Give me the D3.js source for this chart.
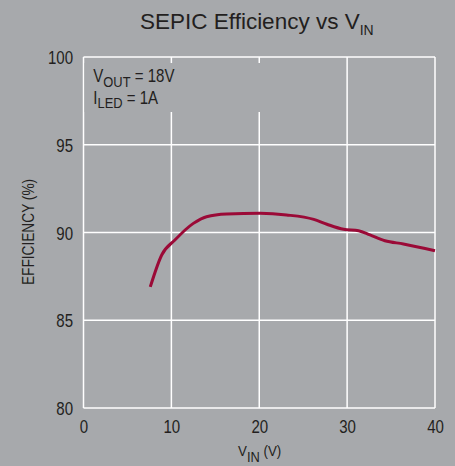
<!DOCTYPE html>
<html><head><meta charset="utf-8">
<script src="https://cdn.jsdelivr.net/npm/d3@7"></script>
<style>
html,body{margin:0;padding:0;background:#a7a9ac;}
svg{display:block;}
text{fill:#231f20;}
</style></head>
<body>
<svg id="c" width="455" height="466"></svg>
<script>
const vin = [7.6, 8.9, 10.4, 12.5, 14.0, 16.3, 20.1, 23.1, 26.2, 27.7, 29.6, 31.3, 32.6, 34.3, 36.4, 40.0];
const efficiency = [86.9, 88.72, 89.57, 90.52, 90.9, 91.05, 91.09, 91.0, 90.75, 90.47, 90.18, 90.1, 89.86, 89.53, 89.35, 88.96];
const xTicks = [0, 10, 20, 30, 40];
const yTicks = [80, 85, 90, 95, 100];

const bg = "#a7a9ac";
const font = "'Liberation Sans',Arial,Helvetica,sans-serif";
const S = 0.86; // horizontal condensing
const svg = d3.select("#c");
svg.append("rect").attr("width",455).attr("height",466).attr("fill",bg);

const x = d3.scaleLinear().domain([0,40]).range([83.5,435]);
const y = d3.scaleLinear().domain([80,100]).range([408,57]);

function cond(sel, ax){ sel.attr("transform",`translate(${ax},0) scale(${S},1) translate(${-ax},0)`); }

const g = svg.append("g");
g.selectAll(".vg").data(xTicks).join("line")
  .attr("x1",d=>x(d)).attr("x2",d=>x(d)).attr("y1",y(80)).attr("y2",y(100))
  .attr("stroke","#fff").attr("stroke-width",1.5);
g.selectAll(".hg").data(yTicks).join("line")
  .attr("x1",x(0)).attr("x2",x(40)).attr("y1",d=>y(d)).attr("y2",d=>y(d))
  .attr("stroke","#fff").attr("stroke-width",1.5);

// annotation background box
g.append("rect").attr("x",x(0)+1).attr("y",63).attr("width",180).attr("height",49).attr("fill",bg);

const xAxis = svg.append("g").attr("transform",`translate(0,${y(80)})`)
  .call(d3.axisBottom(x).tickValues(xTicks).tickSize(0).tickPadding(13));
xAxis.select(".domain").remove();
xAxis.selectAll("text").attr("font-family",font).attr("font-size",17.5).attr("fill","#231f20")
  .attr("transform",`scale(${S},1)`);

const pad = 10.5;
const yAxis = svg.append("g").attr("transform",`translate(${x(0)},0)`)
  .call(d3.axisLeft(y).tickValues(yTicks).tickSize(0).tickPadding(pad));
yAxis.select(".domain").remove();
yAxis.selectAll("text").attr("font-family",font).attr("font-size",17.5).attr("fill","#231f20")
  .attr("dy","0.38em").call(cond,-pad);

const line = d3.line().x((d,i)=>x(vin[i])).y(d=>y(d)).curve(d3.curveMonotoneX);
svg.append("path").datum(efficiency).attr("d",line)
  .attr("fill","none").attr("stroke","#9b0a37").attr("stroke-width",3).attr("stroke-linejoin","round");

// title
const t = svg.append("text").attr("x",140).attr("y",28.5)
  .attr("font-family",font).attr("font-size",22.5);
t.append("tspan").text("SEPIC Efficiency vs V");
t.append("tspan").attr("font-size",14).attr("dy",6).text("IN");

// annotations
const a1 = svg.append("text").attr("x",93.3).attr("y",82).attr("font-family",font).attr("font-size",17.5).call(cond,93.3);
a1.append("tspan").text("V");
a1.append("tspan").attr("font-size",15).attr("dy",5).text("OUT");
a1.append("tspan").attr("dy",-5).text(" = 18V");
const a2 = svg.append("text").attr("x",93.3).attr("y",104.5).attr("font-family",font).attr("font-size",17.5).call(cond,93.3);
a2.append("tspan").text("I");
a2.append("tspan").attr("font-size",15).attr("dy",4).text("LED");
a2.append("tspan").attr("dy",-4).text(" = 1A");

// x title
const xt = svg.append("text").attr("x",238).attr("y",456).attr("font-family",font).attr("font-size",15.5).call(cond,238);
xt.append("tspan").text("V");
xt.append("tspan").attr("font-size",15).attr("dy",6).text("IN");
xt.append("tspan").attr("dy",-6).text(" (V)");

// y title
svg.append("text").attr("transform",`translate(34,232) rotate(-90) scale(0.83,1)`).attr("text-anchor","middle")
  .attr("font-family",font).attr("font-size",16.5).text("EFFICIENCY (%)");
</script>
</body></html>
